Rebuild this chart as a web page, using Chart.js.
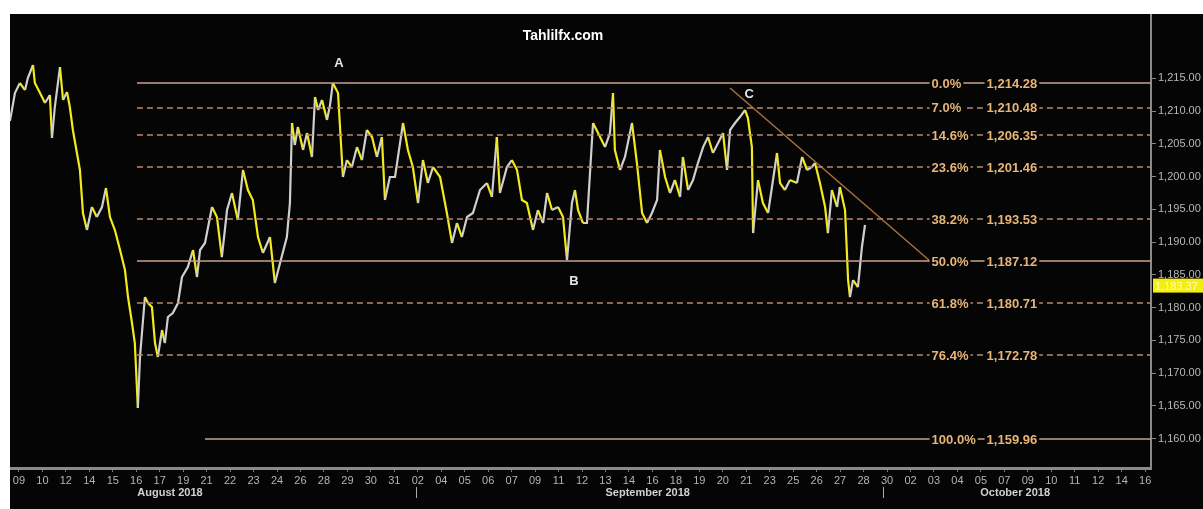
<!DOCTYPE html>
<html>
<head>
<meta charset="utf-8">
<script src="https://cdn.jsdelivr.net/npm/chart.js@4.4.1/dist/chart.umd.min.js"></script>
<style>
  html, body { margin: 0; padding: 0; background: #fff; }
  #wrap { position: absolute; left: 10px; top: 14px; width: 1193px; height: 495px; background: #050505; }
</style>
</head>
<body>
<div id="wrap"><canvas id="chart"></canvas></div>
<script>
// Axis labels (one per trading-day slot on the x axis)
const dayLabels = [
  "09","10","12","14","15","16","17","19","21","22","23","24","26","28","29","30","31",
  "02","04","05","06","07","09","11","12","13","14","16","18","19","20","21","23","25","26","27","28","30",
  "02","03","04","05","07","09","10","11","12","14","16"
];
const monthNames = ["August 2018", "September 2018", "October 2018"];
const yTicks = [1160, 1165, 1170, 1175, 1180, 1185, 1190, 1195, 1200, 1205, 1210, 1215];

// Price path (x = position in day slots, y = XAU price)
const priceX = [
  -0.38,-0.17,0.04,0.26,0.38,0.60,0.68,0.90,1.11,1.32,1.41,1.53,1.75,1.88,2.05,2.17,2.30,2.60,2.73,2.90,
  3.11,3.32,3.54,3.71,3.88,4.09,4.31,4.52,4.65,4.82,4.94,5.07,5.16,5.37,5.50,5.67,5.80,5.92,6.10,6.22,
  6.35,6.56,6.78,6.95,7.20,7.42,7.59,7.72,7.93,8.23,8.44,8.65,8.87,9.08,9.33,9.55,9.76,9.97,10.19,10.40,
  10.70,10.91,11.13,11.42,11.55,11.64,11.76,11.89,12.11,12.28,12.49,12.62,12.75,12.92,13.13,13.26,13.38,13.60,13.81,13.98,
  14.19,14.41,14.62,14.83,15.05,15.26,15.47,15.60,15.81,16.03,16.37,16.58,16.79,17.01,17.22,17.43,17.65,17.95,18.24,18.46,
  18.67,18.88,19.10,19.35,19.65,19.95,20.16,20.37,20.50,20.80,21.01,21.23,21.44,21.65,21.91,22.12,22.34,22.51,22.72,22.98,
  23.19,23.36,23.57,23.70,23.83,24.04,24.21,24.34,24.47,24.77,24.98,25.19,25.32,25.40,25.62,25.83,26.13,26.34,26.56,26.77,
  26.98,27.20,27.32,27.54,27.75,27.96,28.18,28.30,28.52,28.73,28.94,29.16,29.37,29.58,29.80,30.01,30.18,30.31,30.52,30.73,
  30.95,31.07,31.24,31.29,31.50,31.71,31.93,32.14,32.31,32.44,32.65,32.86,33.16,33.38,33.59,33.80,33.93,34.14,34.36,34.48,
  34.65,34.87,34.99,35.21,35.34,35.42,35.55,35.76,35.93,36.06
];
const priceY = [
  1208.5,1212.75,1214.28,1213.21,1215.04,1217.03,1214.28,1212.75,1211.23,1212.45,1205.89,1210.62,1216.72,1211.69,1212.91,1210.62,1207.11,1201.01,1194.45,1191.85,
  1195.36,1193.83,1195.36,1198.26,1193.83,1191.85,1188.80,1185.75,1181.63,1177.66,1174.61,1164.69,1172.47,1181.63,1180.71,1180.10,1174.61,1172.47,1176.59,1174.61,
  1178.58,1179.19,1180.71,1184.68,1186.21,1188.80,1184.68,1188.80,1189.87,1195.36,1193.83,1187.73,1194.90,1197.50,1193.38,1201.01,1197.95,1196.43,1190.78,1188.34,
  1190.78,1183.76,1186.81,1190.78,1195.97,1208.18,1204.82,1207.57,1204.06,1206.65,1202.99,1212.14,1210.16,1211.69,1208.64,1210.92,1214.28,1212.75,1199.94,1202.53,
  1201.46,1204.51,1202.53,1207.11,1206.04,1202.99,1206.04,1196.43,1199.94,1199.94,1208.18,1204.06,1201.46,1195.97,1202.53,1199.02,1201.46,1199.94,1194.45,1189.87,
  1192.92,1190.78,1193.83,1194.45,1197.95,1199.02,1196.89,1206.04,1197.50,1201.46,1202.53,1201.01,1196.43,1195.97,1191.85,1194.90,1192.92,1197.50,1194.90,1195.36,
  1193.83,1187.27,1195.97,1197.95,1194.90,1192.92,1192.92,1200.55,1208.18,1206.04,1204.51,1206.65,1212.75,1204.06,1201.01,1202.99,1208.18,1202.07,1194.45,1192.92,
  1194.45,1196.43,1204.06,1199.94,1197.50,1199.48,1196.89,1202.99,1197.95,1199.48,1202.07,1204.51,1206.04,1203.60,1205.12,1206.65,1201.01,1207.11,1208.18,1209.09,
  1210.16,1208.94,1204.51,1191.39,1199.48,1195.97,1194.45,1199.48,1203.60,1199.02,1197.95,1199.48,1199.02,1202.99,1201.01,1201.46,1202.07,1199.02,1195.36,1191.39,
  1197.95,1195.36,1198.41,1194.90,1184.22,1181.63,1184.22,1183.15,1189.26,1192.62
];

// Fibonacci retracement levels
const fibPct = ["0.0%", "7.0%", "14.6%", "23.6%", "38.2%", "50.0%", "61.8%", "76.4%", "100.0%"];
const fibValue = [1214.28, 1210.48, 1206.35, 1201.46, 1193.53, 1187.12, 1180.71, 1172.78, 1159.96];
const fibStart = [5.03, 5.03, 5.03, 5.03, 5.03, 5.03, 5.03, 5.03, 7.93];
const fibSolid = [true, false, false, false, false, true, false, false, true];

// Falling trendline from C
const trendX = [30.31, 38.83];
const trendY = [1213.52, 1187.12];

// Wave points
const waveNames = ["A", "B", "C"];
const waveX = [13.64, 23.66, 31.12];
const waveY = [1217.2, 1184.07, 1212.6];

const lastPrice = 1183.37;
const X_MIN = -0.38, X_MAX = 48.25;

const fmt = v => v.toLocaleString("en-US", { minimumFractionDigits: 2, maximumFractionDigits: 2 });

const datasets = [];
fibValue.forEach((v, i) => {
  datasets.push({
    data: [{ x: fibStart[i], y: v }, { x: X_MAX, y: v }],
    borderColor: fibSolid[i] ? "#c9a08a" : "#b98a70",
    borderWidth: 1.5,
    borderDash: fibSolid[i] ? [] : [6, 4],
    pointRadius: 0
  });
});
datasets.push({
  data: trendX.map((x, i) => ({ x, y: trendY[i] })),
  borderColor: "#a8703a",
  borderWidth: 1.5,
  pointRadius: 0
});
datasets.push({
  data: priceX.map((x, i) => ({ x, y: priceY[i] })),
  borderWidth: 2.2,
  pointRadius: 0,
  segment: {
    borderColor: ctx => ctx.p1.parsed.y >= ctx.p0.parsed.y ? "#cfcfcf" : "#f2ea1c"
  }
});

const overlay = {
  id: "overlay",
  afterDraw(chart) {
    const { ctx, scales: { x, y }, chartArea } = chart;
    ctx.save();
    ctx.textBaseline = "middle";

    // fib labels with black backing so the line breaks around them
    ctx.font = "bold 13px 'Liberation Sans', Arial, sans-serif";
    const px = x.getPixelForValue(38.9);
    fibValue.forEach((v, i) => {
      const py = y.getPixelForValue(v);
      const t1 = fibPct[i], t2 = fmt(v);
      const w1 = ctx.measureText(t1).width, w2 = ctx.measureText(t2).width;
      const vx = px + 55;
      ctx.fillStyle = "#050505";
      ctx.fillRect(px - 2, py - 7, w1 + 4, 14);
      ctx.fillRect(vx - 2, py - 7, w2 + 4, 14);
      ctx.fillStyle = "#e8b477";
      ctx.textAlign = "left";
      ctx.fillText(t1, px, py + 1);
      ctx.fillText(t2, vx, py + 1);
    });

    // wave letters
    ctx.font = "bold 13px 'Liberation Sans', Arial, sans-serif";
    ctx.fillStyle = "#e6e6e6";
    ctx.textAlign = "center";
    waveNames.forEach((n, i) => ctx.fillText(n, x.getPixelForValue(waveX[i]), y.getPixelForValue(waveY[i])));

    // title
    ctx.font = "bold 14px 'Liberation Sans', Arial, sans-serif";
    ctx.fillStyle = "#ffffff";
    ctx.fillText("Tahlilfx.com", 553, 22);

    // last price tag on the axis
    const ty = y.getPixelForValue(lastPrice);
    ctx.fillStyle = "#f4ee10";
    ctx.fillRect(chartArea.right + 2, ty - 7, chart.width - chartArea.right - 2, 14);
    ctx.fillStyle = "#fffbd0";
    ctx.textAlign = "left";
    ctx.font = "11px 'Liberation Sans', Arial, sans-serif";
    ctx.fillText(fmt(lastPrice), chartArea.right + 4, ty + 1);

    // month names and separators
    const mPos = [6.44, 26.8, 42.46];
    const sepPos = [16.92, 36.83];
    const my = chartArea.bottom + 25;
    ctx.font = "bold 11px 'Liberation Sans', Arial, sans-serif";
    ctx.fillStyle = "#d0d0d0";
    ctx.textAlign = "center";
    monthNames.forEach((m, i) => ctx.fillText(m, x.getPixelForValue(mPos[i]), my));
    ctx.strokeStyle = "#aaa";
    ctx.lineWidth = 1;
    sepPos.forEach(s => {
      const sx = Math.round(x.getPixelForValue(s)) + 0.5;
      ctx.beginPath();
      ctx.moveTo(sx, my - 6);
      ctx.lineTo(sx, my + 5);
      ctx.stroke();
    });
    ctx.restore();
  }
};

new Chart(document.getElementById("chart"), {
  type: "line",
  data: { datasets },
  options: {
    responsive: true,
    maintainAspectRatio: false,
    animation: false,
    layout: { padding: 0 },
    plugins: { legend: { display: false }, tooltip: { enabled: false } },
    scales: {
      x: {
        type: "linear",
        min: X_MIN,
        max: X_MAX,
        afterBuildTicks: s => { s.ticks = dayLabels.map((_, i) => ({ value: i })); },
        afterFit: s => { s.height = 41; s.paddingLeft = 0; s.paddingRight = 0; },
        ticks: {
          callback: v => dayLabels[v],
          autoSkip: false,
          maxRotation: 0,
          color: "#b4b4b4",
          padding: 2,
          font: { size: 11, family: "'Liberation Sans', Arial, sans-serif" }
        },
        grid: { drawOnChartArea: false, color: "#777", tickLength: 4 },
        border: { color: "#8a8a8a", width: 3 }
      },
      y: {
        position: "right",
        min: 1155.54,
        max: 1224.81,
        afterBuildTicks: s => { s.ticks = yTicks.map(v => ({ value: v })); },
        afterFit: s => { s.width = 52; s.paddingTop = 0; s.paddingBottom = 0; },
        ticks: {
          callback: v => fmt(v),
          color: "#b8b8b8",
          padding: 2,
          font: { size: 11, family: "'Liberation Sans', Arial, sans-serif" }
        },
        grid: { drawOnChartArea: false, color: "#888", tickLength: 5 },
        border: { color: "#8a8a8a", width: 2 }
      }
    }
  },
  plugins: [overlay]
});
</script>
</body>
</html>
